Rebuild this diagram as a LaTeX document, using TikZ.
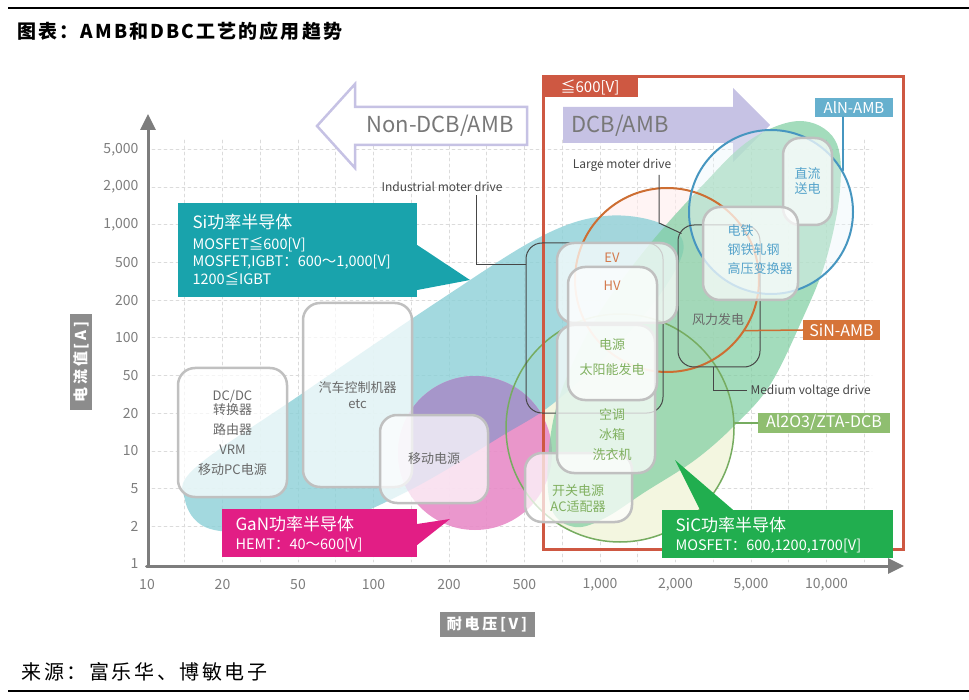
\documentclass[tikz,border=0pt]{standalone}
\usepackage{fontspec}
\setmainfont{Noto Sans CJK SC}
\usetikzlibrary{arrows.meta}

\begin{document}
\begin{tikzpicture}
	[x=1pt,y=-1pt,line cap=round,
	%Styles
	gridline/.style={gray!28,dashed,line width=.6pt},
	axis/.style={draw=axisgray,line width=3pt,-{Triangle[length=16pt,width=15pt]}},
	tick label/.style={text=ticktext,font=\fontsize{14}{14}\selectfont},
	axis title/.style={fill=labelgray,text=white,inner sep=0pt,font=\bfseries\fontsize{15}{15}\selectfont\addfontfeature{LetterSpace=18}},
	appbox/.style={draw=boxgray,line width=2.5pt,rounded corners=17pt,fill=white,fill opacity=.72,text opacity=1,inner sep=0pt,align=center,text=textgray,font=\fontsize{13}{20}\selectfont},
	drivebox/.style={draw=drivegray,line width=1pt,rounded corners=16pt,inner sep=0pt},
	boxtext/.style={align=center,font=\fontsize{13}{20}\selectfont},
	leader/.style={drivegray,line width=1pt,line cap=butt},
	leader text/.style={text=drivegray,font=\fontsize{12}{12}\selectfont},
	arrow text/.style={text=arrowtext,font=\fontsize{22}{22}\selectfont},
	callout/.style={inner sep=0pt},
	callout title/.style={anchor=west,text=white,font=\fontsize{17}{17}\selectfont},
	callout text/.style={anchor=west,text=white,font=\fontsize{14.5}{17.5}\selectfont},
	tag/.style={text=white,inner sep=0pt,font=\fontsize{15}{15}\selectfont},
	ring/.style={circle,inner sep=0pt,line width=2pt}
	]
	
	%Colors
	\definecolor{sicolor}{RGB}{25,163,172}
	\definecolor{gancolor}{RGB}{226,30,133}
	\definecolor{siccolor}{RGB}{33,174,79}
	\definecolor{siregion}{RGB}{140,208,215}
	\definecolor{ganregion}{RGB}{232,140,200}
	\definecolor{overlap}{RGB}{166,150,202}
	\definecolor{sicregion}{RGB}{128,206,162}
	\definecolor{cream}{RGB}{243,246,224}
	\definecolor{dcbred}{RGB}{206,88,66}
	\definecolor{lavender}{RGB}{198,194,228}
	\definecolor{alnblue}{RGB}{70,150,192}
	\definecolor{alnfill}{RGB}{102,176,206}
	\definecolor{sinorange}{RGB}{205,110,50}
	\definecolor{sinfill}{RGB}{214,116,56}
	\definecolor{dcbgreen}{RGB}{118,172,96}
	\definecolor{dcbfill}{RGB}{143,190,112}
	\definecolor{boxgray}{RGB}{192,192,192}
	\definecolor{drivegray}{RGB}{70,70,70}
	\definecolor{axisgray}{RGB}{125,125,125}
	\definecolor{labelgray}{RGB}{140,140,140}
	\definecolor{ticktext}{RGB}{125,125,125}
	\definecolor{textgray}{RGB}{105,105,105}
	\definecolor{arrowtext}{RGB}{120,120,120}
	\definecolor{evorange}{RGB}{212,122,78}
	\definecolor{appgreen}{RGB}{128,176,95}
	\definecolor{railblue}{RGB}{85,163,203}
	
	%Regions
	\def\siregionpath{plot[smooth cycle,tension=.6] coordinates {(185,500) (195,468) (300,395) (440,300) (540,237) (605,216) (662,224) (683,252) (640,320) (560,398) (500,437) (410,490) (330,524) (255,532) (205,527)}}
	\def\ganregionpath{(475,453) circle [radius=77pt]}
	\def\sicregionpath{plot[smooth cycle,tension=.6] coordinates {(800,121) (835,140) (840,190) (826,260) (802,320) (770,385) (735,425) (695,460) (645,492) (605,518) (575,527) (552,510) (548,460) (560,395) (595,320) (645,250) (700,188) (750,140)}}
	
	\useasboundingbox (0,0) rectangle (969,700);
	
	%The graphic
	\begin{scope}[gridline]
		\foreach \k in {1,...,11}
			\draw (152,564-37.7*\k) -- (872,564-37.7*\k);
		\foreach \j in {1,...,19}
			\draw (147+37.75*\j,140) -- (147+37.75*\j,562);
	\end{scope}
	
	\draw[lavender,line width=2.5pt,fill=white,line join=miter] (317,126) -- (355,84) -- (355,107) -- (527,107) -- (527,145) -- (355,145) -- (355,168) -- cycle;
	\node[arrow text] (nondcb) at (440,126) {Non-DCB/AMB};
	\fill[lavender] (563,107) -- (733,107) -- (733,88) -- (770,125) -- (733,162) -- (733,143) -- (563,143) -- cycle;
	\node[arrow text] (dcb) at (620,126) {DCB/AMB};
	
	\fill[cream] (620,428) circle [radius=114pt];
	\fill[pink!30,fill opacity=.6] (667,280) circle [radius=92pt];
	\fill[siregion,fill opacity=.8] \siregionpath;
	\fill[ganregion,fill opacity=.9] \ganregionpath;
	\begin{scope}
		\clip \siregionpath;
		\fill[overlap] \ganregionpath;
	\end{scope}
	\fill[sicregion,fill opacity=.72] \sicregionpath;
	\fill[alnblue!10,fill opacity=.4] (771,212) circle [radius=82pt];
	
	\node[ring,draw=dcbgreen,line width=1.5pt,minimum size=228pt] (dcbring) at (620,428) {};
	\node[ring,draw=sinorange,minimum size=184pt] (sinring) at (667,280) {};
	\node[ring,draw=alnblue,minimum size=164pt] (alnring) at (771,212) {};
	
	\draw[dcbred,line width=3pt,line join=miter] (543,77) rectangle (903,549);
	\fill[dcbred] (543,77) rectangle (638,97);
	\node[tag] (vtag) at (590,87) {≦600[V]};
	
	%Applications
	\node[drivebox,minimum width=137pt,minimum height=170pt] (indbox) at (594.5,328) {};
	\node[drivebox,minimum width=82pt,minimum height=142pt] (wind) at (719,296) {};
	\node[appbox,minimum width=107pt,minimum height=69pt] (sw) at (578.5,487.5) {};
	\node[appbox,minimum width=98pt,minimum height=148pt] (appl) at (606,399) {};
	\node[appbox,minimum width=120pt,minimum height=80pt] (ev) at (617,283) {};
	\node[appbox,minimum width=89pt,minimum height=133pt] (hv) at (612.5,333.5) {};
	\node[appbox,minimum width=49pt,minimum height=87pt,text=railblue] (hvdc) at (807.5,181.5) {直流\\[-5pt]送电};
	\node[appbox,minimum width=95pt,minimum height=93pt] (rail) at (750.5,253.5) {};
	\node[appbox,minimum width=109pt,minimum height=129pt] (dcdc) at (232.5,432.5) {DC/DC\\[-6pt]转换器\\路由器\\VRM\\移动PC电源};
	\node[appbox,minimum width=109pt,minimum height=184pt] (car) at (357.5,395) {汽车控制机器\\[-4pt]etc};
	\node[appbox,minimum width=108pt,minimum height=88pt] (mobile) at (434,459) {移动电源};
	
	\node[boxtext,text=evorange] (evtxt) at (612,258) {EV};
	\node[boxtext,text=evorange] (hvtxt) at (612,286) {HV};
	\node[boxtext,text=appgreen] (powertxt) at (612,357) {电源\\[5pt]太阳能发电};
	\node[boxtext,text=appgreen] (appltxt) at (612,435) {空调\\冰箱\\洗衣机};
	\node[boxtext,text=appgreen] (swtxt) at (578,499) {开关电源\\[-4pt]AC适配器};
	\node[boxtext,text=textgray] (windtxt) at (718,320) {风力发电};
	\node[boxtext,text=railblue,align=left,anchor=west] (railtxt) at (724,250) {电铁\\[-1pt]钢铁轧钢\\[-1pt]高压变换器};
	
	%Drives
	\node[leader text] (indtxt) at (442,187) {Industrial moter drive};
	\node[leader text] (lmdtxt) at (622,165) {Large moter drive};
	\node[leader text,anchor=west] (mvdtxt) at (747,391) {Medium voltage drive};
	\draw[leader] ([xshift=34pt]indtxt.south) |- ([yshift=-22pt]indbox.north west);
	\draw[leader] ([xshift=37pt]lmdtxt.south) -- (659,223) -- ([shift={(4pt,-9pt)}]wind.north west);
	\draw[leader] ([xshift=-6pt]wind.south) |- (mvdtxt.west);
	
	%Substrates
	\node[tag,fill=alnfill,minimum width=78pt,minimum height=19pt] (alntag) at (854,107.5) {AlN-AMB};
	\node[tag,fill=sinfill,minimum width=77pt,minimum height=20pt,font=\fontsize{16}{16}\selectfont] (sintag) at (841.5,330) {SiN-AMB};
	\node[tag,fill=dcbfill,minimum width=132pt,minimum height=20pt,font=\fontsize{16}{16}\selectfont] (dcbtag) at (824,423) {Al2O3/ZTA-DCB};
	\draw[alnblue,line width=1.5pt] (alnring.30) -- (alnring.30 |- alntag.south);
	\draw[sinorange,line width=1.5pt] (sinring.-33) -- (sintag.west);
	\draw[dcbgreen,line width=1.5pt] (dcbring.east |- dcbtag.west) -- (dcbtag.west);
	
	%Semiconductors
	\node[callout,fill=sicolor,minimum width=239pt,minimum height=94pt] (sibox) at (297.5,250) {};
	\fill[sicolor] ([yshift=5pt]sibox.east) -- (470,280) -- ([yshift=-40pt]sibox.east) -- cycle;
	\node[callout title] (sititle) at (189,222) {Si功率半导体};
	\node[callout text,align=left] (sitxt) at (189,261) {MOSFET≦600[V]\\MOSFET,IGBT：600～1,000[V]\\1200≦IGBT};
	
	\node[callout,fill=gancolor,minimum width=195pt,minimum height=48pt] (ganbox) at (319.5,533) {};
	\fill[gancolor] ([yshift=9pt]ganbox.east) -- (450,519) -- ([yshift=-12pt]ganbox.east) -- cycle;
	\node[callout title] (gantitle) at (232,524) {GaN功率半导体};
	\node[callout text] (gantxt) at (232,545) {HEMT：40～600[V]};
	
	\node[callout,fill=siccolor,minimum width=231pt,minimum height=48pt] (sicbox) at (777.5,534) {};
	\fill[siccolor] ([xshift=-77.5pt]sicbox.north) -- (675,460) -- ([xshift=-44.5pt]sicbox.north) -- cycle;
	\node[callout title] (sictitle) at (672,525) {SiC功率半导体};
	\node[callout text] (sictxt) at (672,546) {MOSFET：600,1200,1700[V]};
	
	%Axes
	\draw[axis] (148,566) -- (148,114);
	\draw[axis] (146.5,566) -- (904,566);
	\foreach \v [count=\k from 0] in {1,2,5,10,20,50,100,200,500,{1,000},{2,000},{5,000}}
		\node[tick label,anchor=east] (y\k) at (142,564-37.7*\k) {\v};
	\foreach \v [count=\k from 0] in {10,20,50,100,200,500,{1,000},{2,000},{5,000},{10,000}}
		\node[tick label] (x\k) at (147+75.5*\k,585) {\v};
	\node[axis title,rotate=90,minimum width=95pt,minimum height=22pt] (ylabel) at (81,362) {电流值[A]};
	\node[axis title,minimum width=95pt,minimum height=25pt] (xlabel) at (487,624) {耐电压[V]};
	
	%Caption
	\draw[line width=1.2pt,line cap=butt] (8,8) -- (969,8);
	\draw[line width=1.2pt,line cap=butt] (8,691) -- (969,691);
	\node[anchor=west,font=\bfseries\fontsize{19}{19}\selectfont\addfontfeature{LetterSpace=11}] (title) at (14,31) {图表：AMB和DBC工艺的应用趋势};
	\node[anchor=west,font=\fontsize{20}{20}\selectfont\addfontfeature{LetterSpace=13}] (source) at (18,672) {来源：富乐华、博敏电子};
\end{tikzpicture}
\end{document}
